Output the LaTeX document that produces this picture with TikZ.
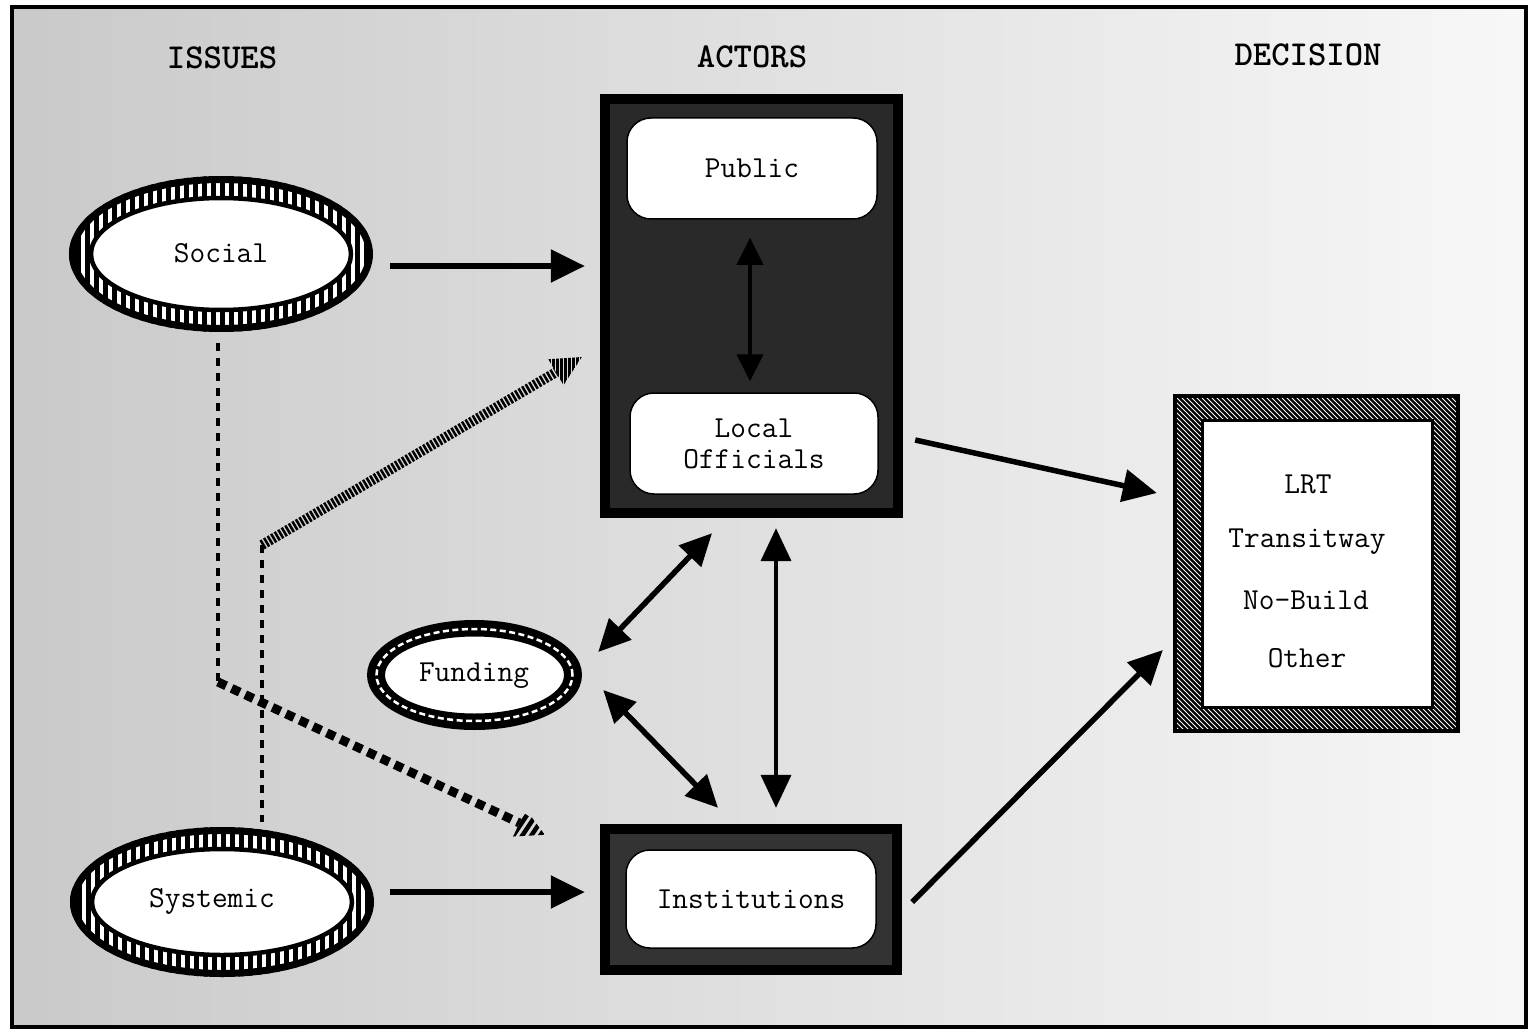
\documentclass[tikz,border=0pt]{standalone}
\usepackage{fontspec}
\usetikzlibrary{arrows.meta,calc,shapes.geometric}
\begin{document}
\begin{tikzpicture}[x=1pt,y=-1pt,
  txt/.style={font=\fontsize{30.5}{31}\selectfont\ttfamily, align=center, inner sep=0pt},
  hdr/.style={font=\fontsize{35}{36}\selectfont\ttfamily\bfseries, inner sep=0pt},
  arr/.style={line width=5.5pt, -{Triangle[length=34pt,width=32pt]}},
  darr/.style={line width=5.5pt, {Triangle[length=32pt,width=30pt]}-{Triangle[length=32pt,width=30pt]}},
  vdarr/.style={line width=4pt, {Triangle[length=33pt,width=30pt]}-{Triangle[length=33pt,width=30pt]}},
  thindash/.style={line width=3.5pt, dash pattern=on 8pt off 7pt},
  blob/.style={ellipse, inner sep=0pt},
  boxnode/.style={rectangle, inner sep=0pt},
  inbox/.style={txt, draw, line width=1.5pt, fill=white, rounded corners=24pt},
]
\useasboundingbox (0,0) rectangle (1530,1032);
\fill[white] (0,0) rectangle (1530,1032);
\shade[left color=gray!42, right color=gray!6] (12,7) rectangle (1526,1027);
\draw[line width=4pt] (12,7) rectangle (1526,1027);

% headers
\node[hdr] (hIssues) at (222,58) {ISSUES};
\node[hdr] (hActors) at (752,57) {ACTORS};
\node[hdr] (hDecision) at (1308,55) {DECISION};

% node placeholders
\node[blob, minimum width=304pt, minimum height=156pt] (social) at (221,254) {};
\node[blob, minimum width=304pt, minimum height=150pt] (systemic) at (222,902) {};
\node[blob, minimum width=215pt, minimum height=110pt] (funding) at (474.5,675) {};
\node[boxnode, fill=black, minimum width=303pt, minimum height=424pt] (actors) at (751.5,306) {};
\node[boxnode, fill=black, minimum width=302pt, minimum height=151pt] (inst) at (751,899.5) {};
\node[boxnode, minimum width=283pt, minimum height=335pt] (decision) at (1316.5,563.5) {};

% dashed issue links
\coordinate (hs) at (262,545);
\coordinate (d1) at ([xshift=-3pt,yshift=-11pt]social.south);
\coordinate (d2) at (218,682);
\coordinate (d3) at ([xshift=-55pt,yshift=-11pt]inst.north west);
\draw[thindash] (d1) -- (d2);
\draw[thindash] (hs) -- ([xshift=40pt,yshift=5pt]systemic.north);
\coordinate (db) at ($(d3)!28pt!(d2)$);
\draw[line width=9pt, dash pattern=on 9pt off 6pt] (d2) -- (db);
\begin{scope}
  \clip (d3) -- ($(db)!15pt!90:(d3)$) -- ($(db)!15pt!-90:(d3)$) -- cycle;
  \foreach \i in {0,...,14} \draw[line width=4.5pt] ({470+\i*9},860) -- ++(30,-45);
\end{scope}

% hatched arrow to actors
\coordinate (he) at ([xshift=-18pt,yshift=-51pt]actors.west);
\coordinate (hb) at ($(he)!30pt!(hs)$);
\draw[line width=10pt, dash pattern=on 2.5pt off 1.6pt] (hs) -- (hb);
\begin{scope}
  \clip (he) -- ($(hb)!15pt!90:(he)$) -- ($(hb)!15pt!-90:(he)$) -- cycle;
  \foreach \i in {0,...,14} \fill ({536+\i*4},330) rectangle ++(2.6,70);
\end{scope}

% social ring
\begin{scope}
  \clip (social.center) ellipse [x radius=152pt, y radius=78pt];
  \fill[white] (60,170) rectangle (380,340);
  \foreach \i in {0,...,36} \fill ({67+\i*9},170) rectangle ++(4.8,170);
\end{scope}
\draw[line width=7pt] (social.center) ellipse [x radius=148.5pt, y radius=74.5pt];
\draw[line width=4.5pt, fill=white] (social.center) ellipse [x radius=130pt, y radius=56pt];
\node[txt] (socialtext) at (221,253) {Social};

% systemic ring
\begin{scope}
  \clip (systemic.center) ellipse [x radius=152pt, y radius=75pt];
  \fill[white] (60,820) rectangle (380,985);
  \foreach \i in {0,...,36} \fill ({68+\i*9},820) rectangle ++(4.8,170);
\end{scope}
\draw[line width=7pt] (systemic.center) ellipse [x radius=148.5pt, y radius=71.5pt];
\draw[line width=4.5pt, fill=white] (systemic.center) ellipse [x radius=130pt, y radius=53pt];
\node[txt] (systemictext) at (212,901) {Systemic};

% funding ring
\fill (funding.center) ellipse [x radius=107.5pt, y radius=55pt];
\draw[white, line width=2.5pt, dash pattern=on 6pt off 3.5pt] (funding.center) ellipse [x radius=98pt, y radius=46pt];
\draw[line width=3pt, fill=white] (funding.center) ellipse [x radius=91pt, y radius=40pt];
\node[txt] (fundingtext) at (474,676) {Funding};

% actors box interior
\fill[black!84] ([xshift=10pt,yshift=-10pt]actors.north west) rectangle ([xshift=-10pt,yshift=10pt]actors.south east);
\node[inbox, minimum width=250pt, minimum height=101pt] (public) at (752,168.5) {Public};
\node[inbox, minimum width=248pt, minimum height=101pt] (local) at (754,443.5) {Local\\Officials};

% institutions box interior
\fill[black!80] ([xshift=10pt,yshift=-10pt]inst.north west) rectangle ([xshift=-10pt,yshift=10pt]inst.south east);
\node[inbox, minimum width=250pt, minimum height=98pt] (institutions) at (751,899) {Institutions};

% decision box
\begin{scope}
  \clip (decision.north west) rectangle (decision.south east);
  \fill (decision.north west) rectangle (decision.south east);
  \foreach \i in {0,...,130} \draw[white, line width=0.9pt] ({1175-340+\i*5},396) -- ++(340,340);
\end{scope}
\draw[line width=4pt] (decision.north west) rectangle (decision.south east);
\fill[white] (1202,420) rectangle (1432,707);
\draw[line width=3pt] (1202,420) rectangle (1432,707);
\node[txt] (opt1) at (1308,484) {LRT};
\node[txt] (opt2) at (1307,542) {Transitway};
\node[txt] (opt3) at (1306,600) {No-Build};
\node[txt] (opt4) at (1307,658) {Other};

% arrows
\draw[arr] ([xshift=17pt,yshift=-12pt]social.east) -- ([xshift=-15pt,yshift=40pt]actors.west);
\draw[arr] ([xshift=16pt,yshift=10pt]systemic.east) -- ([xshift=-15pt,yshift=7.5pt]inst.west);
\draw[line width=4pt, {Triangle[length=27pt,width=26pt]}-{Triangle[length=27pt,width=26pt]}] ([xshift=-2pt,yshift=-18pt]public.south) -- ([xshift=-4pt,yshift=11pt]local.north);
\draw[arr] ([xshift=12pt,yshift=-134pt]actors.east) -- ([xshift=-18pt,yshift=70.5pt]decision.west);
\draw[arr] ([xshift=10pt,yshift=-2.5pt]inst.east) -- ([xshift=-12pt,yshift=-86.5pt]decision.west);
\draw[darr] ([xshift=16pt,yshift=23pt]funding.east) -- ([xshift=-39.5pt,yshift=-15pt]actors.south);
\draw[darr] ([xshift=21pt,yshift=-15pt]funding.east) -- ([xshift=-33pt,yshift=16pt]inst.north);
\draw[vdarr] ([xshift=24.5pt,yshift=-10pt]actors.south) -- ([xshift=25pt,yshift=16pt]inst.north);
\end{tikzpicture}
\end{document}
